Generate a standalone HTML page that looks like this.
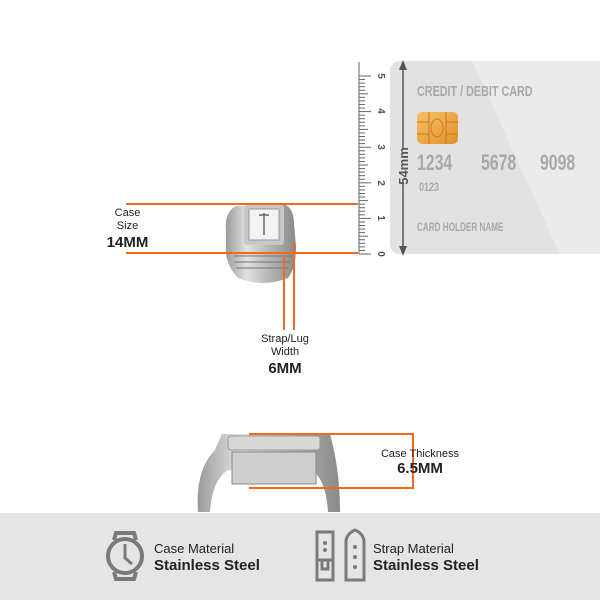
<!DOCTYPE html>
<html><head><meta charset="utf-8"><style>
body{margin:0;width:600px;height:600px;background:#fff;position:relative;overflow:hidden;font-family:"Liberation Sans",sans-serif}
.a{position:absolute}
.t{position:absolute;text-align:center;color:#222}
.ol{position:absolute;background:#f26b1d}
</style></head><body>
<svg class="a" style="left:0;top:0" width="600" height="600">
<defs>
<linearGradient id="chip" x1="0" y1="0" x2="1" y2="1"><stop offset="0" stop-color="#f7c26a"/><stop offset="1" stop-color="#e28f2a"/></linearGradient>
<linearGradient id="met" x1="0" y1="0" x2="1" y2="0"><stop offset="0" stop-color="#9a9a9a"/><stop offset=".3" stop-color="#e2e2e2"/><stop offset=".6" stop-color="#b8b8b8"/><stop offset="1" stop-color="#8a8a8a"/></linearGradient>
</defs>
<rect x="390" y="61" width="240" height="193" rx="10" fill="#e2e2e2"/>
<polygon points="472,61 620,61 620,254 560,254" fill="#ebebeb"/>
<g font-weight="bold" fill="#a8a8a8">
<text transform="translate(417,96) scale(0.72,1)" font-size="15">CREDIT / DEBIT CARD</text>
<text transform="translate(417,170) scale(0.72,1)" font-size="22">1234</text>
<text transform="translate(481,170) scale(0.72,1)" font-size="22">5678</text>
<text transform="translate(540,170) scale(0.72,1)" font-size="22">9098</text>
<text transform="translate(419,191) scale(0.75,1)" font-size="12">0123</text>
<text transform="translate(417,231) scale(0.68,1)" font-size="12">CARD HOLDER NAME</text>
</g>
<rect x="417" y="112" width="41" height="32" rx="5" fill="url(#chip)"/>
<path d="M417,122h12M417,134h12M446,122h12M446,134h12M429,112v32M446,112v32" stroke="#c97a1f" stroke-width="1" fill="none"/>
<ellipse cx="437" cy="128" rx="6" ry="9" fill="none" stroke="#c97a1f"/>
<line x1="403" y1="66" x2="403" y2="148" stroke="#555" stroke-width="1.5"/>
<line x1="403" y1="183" x2="403" y2="250" stroke="#555" stroke-width="1.5"/>
<polygon points="403,60 399,70 407,70" fill="#555"/><polygon points="403,256 399,246 407,246" fill="#555"/>
<text transform="translate(408,166) rotate(-90)" text-anchor="middle" font-size="13" font-weight="bold" fill="#555">54mm</text>
<path d="M359,62V254" stroke="#666"/>
<g id="r"></g>
<g font-size="10" font-weight="bold" fill="#555">
<text transform="translate(378,254) rotate(90)" text-anchor="middle">0</text>
<text transform="translate(378,218) rotate(90)" text-anchor="middle">1</text>
<text transform="translate(378,183) rotate(90)" text-anchor="middle">2</text>
<text transform="translate(378,147) rotate(90)" text-anchor="middle">3</text>
<text transform="translate(378,111) rotate(90)" text-anchor="middle">4</text>
<text transform="translate(378,76) rotate(90)" text-anchor="middle">5</text>
</g>
<!-- ring watch top -->
<path d="M226,232 Q224,212 236,206 L284,204 Q294,208 294,224 L296,246 Q296,268 288,278 Q262,288 238,278 Q226,265 226,250Z" fill="url(#met)"/>
<rect x="244" y="205" width="40" height="40" rx="3" fill="#c8c8c8"/>
<rect x="249" y="209" width="30" height="31" fill="#f3f3f3" stroke="#999"/>
<path d="M259,215h10M264,213v22" stroke="#666" stroke-width="1.5"/>
<path d="M234,256h58M234,262h56M236,268h52" stroke="#777" stroke-width="1"/>
<!-- side watch -->
<path d="M198,512 Q195,470 215,450 L222,434 L330,434 Q340,470 340,512 L328,512 Q326,480 312,470 L228,470 Q212,480 210,512Z" fill="url(#met)"/>
<rect x="228" y="436" width="92" height="14" rx="3" fill="#d8d8d8" stroke="#999"/>
<rect x="232" y="452" width="84" height="32" fill="#cfcfcf" stroke="#888"/>
<rect x="0" y="513" width="600" height="87" fill="#e5e5e5"/>
<g fill="none" stroke="#7a7a7a" stroke-width="4">
<circle cx="125" cy="556" r="17"/>
<path d="M114,540 L116,533 H134 L136,540 M114,572 L116,579 H134 L136,572"/>
<path d="M125,544 V558 L132,564" stroke-width="3"/>
<path d="M317,532 H333 V580 H317 Z M317,560 H333 M322,560 V569 H328 V560" stroke-width="3"/>
<path d="M346,580 V542 Q346,534 355,530 Q364,534 364,542 V580 Z" stroke-width="3"/>
</g>
<g fill="#7a7a7a"><circle cx="325" cy="543" r="2"/><circle cx="325" cy="550" r="2"/><circle cx="355" cy="547" r="2"/><circle cx="355" cy="557" r="2"/><circle cx="355" cy="567" r="2"/></g>
</svg>
<script>
var g=document.getElementById('r'),s='';
for(var i=0;i<=50;i++){var y=254-i*3.56;var l=i%10==0?12:(i%5==0?9:6);s+='<line x1="359" x2="'+(359+l)+'" y1="'+y+'" y2="'+y+'" stroke="#666"/>';}
g.innerHTML=s;
</script>
<div class="ol" style="left:126px;top:203px;width:232px;height:2px"></div>
<div class="ol" style="left:126px;top:252px;width:232px;height:2px"></div>
<div class="ol" style="left:283px;top:257px;width:2px;height:73px"></div>
<div class="ol" style="left:293px;top:243px;width:2px;height:87px"></div>
<div class="ol" style="left:249px;top:433px;width:165px;height:2px"></div>
<div class="ol" style="left:249px;top:487px;width:165px;height:2px"></div>
<div class="ol" style="left:412px;top:433px;width:2px;height:56px"></div>
<div class="t" style="left:100px;top:207px;width:55px;font-size:11px;line-height:13px">Case<br>Size</div>
<div class="t" style="left:95px;top:234px;width:65px;font-size:15px;font-weight:bold">14MM</div>
<div class="t" style="left:250px;top:333px;width:70px;font-size:11px;line-height:13px">Strap/Lug<br>Width</div>
<div class="t" style="left:250px;top:360px;width:70px;font-size:15px;font-weight:bold">6MM</div>
<div class="t" style="left:365px;top:448px;width:110px;font-size:11px">Case Thickness</div>
<div class="t" style="left:365px;top:460px;width:110px;font-size:15px;font-weight:bold">6.5MM</div>
<div class="a" style="left:154px;top:541px;font-size:13px;color:#222">Case Material</div>
<div class="a" style="left:154px;top:557px;font-size:15px;font-weight:bold;color:#222">Stainless Steel</div>
<div class="a" style="left:373px;top:541px;font-size:13px;color:#222">Strap Material</div>
<div class="a" style="left:373px;top:557px;font-size:15px;font-weight:bold;color:#222">Stainless Steel</div>
</body></html>
